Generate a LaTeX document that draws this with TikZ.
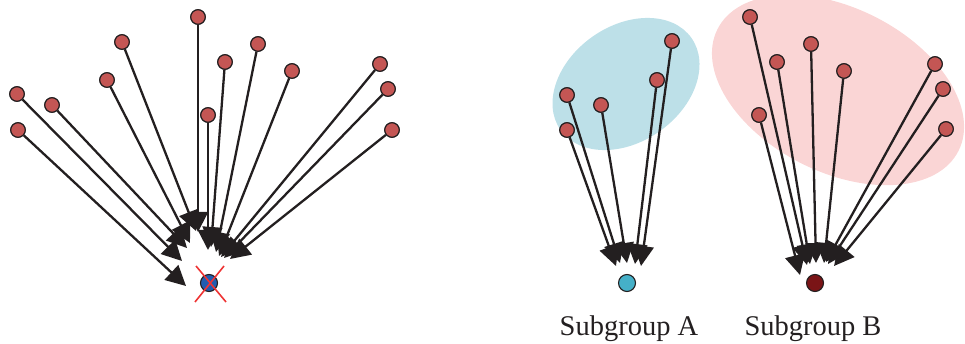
\documentclass[tikz,border=0pt]{standalone}
\usepackage{fontspec}
\setmainfont{Liberation Serif}
\usetikzlibrary{arrows.meta}

\definecolor{inkdark}{RGB}{35,31,32}
\definecolor{srcred}{RGB}{196,86,84}
\definecolor{tgtblue}{RGB}{32,92,176}
\definecolor{tgtcyan}{RGB}{69,176,200}
\definecolor{tgtdark}{RGB}{122,20,22}
\definecolor{crossred}{RGB}{238,52,52}
\definecolor{hullblue}{RGB}{189,224,232}
\definecolor{hullpink}{RGB}{250,213,213}

\tikzset{
  src/.style={circle, draw=inkdark, line width=1.1pt, fill=srcred,
    minimum size=14.5pt, inner sep=0pt},
  tgt/.style={circle, draw=inkdark, line width=1.1pt,
    minimum size=17pt, inner sep=0pt},
  arr/.style={draw=inkdark, line width=2.3pt,
    arrows={-Triangle[length=20pt 0 1, width=20pt 0 1]}},
  crossline/.style={draw=crossred, line width=1.6pt},
  lbl/.style={font=\fontsize{28.5}{34}\selectfont, anchor=base, text=inkdark}
}

\begin{document}
\begin{tikzpicture}[x=1pt,y=-1pt]
\useasboundingbox (0,0) rectangle (965,344);

% group hulls
\begin{scope}
  \clip (0,0) rectangle (965,344);
  \fill[hullblue, rotate around={35:(626,84)}] (626,84) ellipse [x radius=80, y radius=58];
  \fill[hullpink, rotate around={-26.8:(838,90)}] (838,90) ellipse [x radius=135, y radius=82];
\end{scope}

% ---------- left panel: all sources into one target ----------
\node[tgt, fill=tgtblue] (t0) at (209,283) {};

\node[src] (a1)  at (18,130)  {};
\node[src] (a2)  at (17,94)   {};
\node[src] (a3)  at (52,105)  {};
\node[src] (a4)  at (107,80)  {};
\node[src] (a5)  at (122,42)  {};
\node[src] (a6)  at (198,17)  {};
\node[src] (a7)  at (208,115) {};
\node[src] (a8)  at (225,62)  {};
\node[src] (a9)  at (258,44)  {};
\node[src] (a10) at (292,71)  {};
\node[src] (a11) at (380,64)  {};
\node[src] (a12) at (388,89)  {};
\node[src] (a13) at (392,130) {};

\coordinate (e1)  at (186,286);
\coordinate (e2)  at (182,261);
\coordinate (e3)  at (187,248);
\coordinate (e4)  at (190,243);
\coordinate (e5)  at (196,231);
\coordinate (e6)  at (198,232);
\coordinate (e7)  at (208,250);
\coordinate (e8)  at (211,247);
\coordinate (e9)  at (216,252);
\coordinate (e10) at (219,256);
\coordinate (e11) at (221,257);
\coordinate (e12) at (224,258);
\coordinate (e13) at (230,259);

\foreach \i in {1,...,13} \draw[arr] (a\i) -- (e\i);

% crossed-out target
\draw[crossline] (196,266) -- (226,302);
\draw[crossline] (224,266) -- (195,302);

% ---------- right panel: subgroup A ----------
\node[tgt, fill=tgtcyan] (tA) at (627,283) {};

\node[src] (b1) at (567,130) {};
\node[src] (b2) at (567,95)  {};
\node[src] (b3) at (601,105) {};
\node[src] (b4) at (657,80)  {};
\node[src] (b5) at (672,41)  {};

\coordinate (f1) at (616,266);
\coordinate (f2) at (620,263);
\coordinate (f3) at (627,263);
\coordinate (f4) at (635,264);
\coordinate (f5) at (641,266);

\foreach \i in {1,...,5} \draw[arr] (b\i) -- (f\i);

% ---------- right panel: subgroup B ----------
\node[tgt, fill=tgtdark] (tB) at (815,283) {};

\node[src] (c1) at (759,115) {};
\node[src] (c2) at (750,17)  {};
\node[src] (c3) at (777,62)  {};
\node[src] (c4) at (811,44)  {};
\node[src] (c5) at (844,71)  {};
\node[src] (c6) at (935,64)  {};
\node[src] (c7) at (943,89)  {};
\node[src] (c8) at (946,129) {};

\coordinate (g1) at (800,275);
\coordinate (g2) at (807,265);
\coordinate (g3) at (810,264);
\coordinate (g4) at (816,263);
\coordinate (g5) at (824,263);
\coordinate (g6) at (826,262);
\coordinate (g7) at (828,264);
\coordinate (g8) at (834,266);

\foreach \i in {1,...,8} \draw[arr] (c\i) -- (g\i);

% redraw sources above the arrow shafts
\foreach \n/\p in {a1/{18,130},a2/{17,94},a3/{52,105},a4/{107,80},a5/{122,42},
  a6/{198,17},a7/{208,115},a8/{225,62},a9/{258,44},a10/{292,71},a11/{380,64},
  a12/{388,89},a13/{392,130},b1/{567,130},b2/{567,95},b3/{601,105},b4/{657,80},
  b5/{672,41},c1/{759,115},c2/{750,17},c3/{777,62},c4/{811,44},c5/{844,71},
  c6/{935,64},c7/{943,89},c8/{946,129}}
  \node[src] at (\p) {};

% labels
\node[lbl] (labA) at (629,335) {Subgroup A};
\node[lbl] (labB) at (813,335) {Subgroup B};
\end{tikzpicture}
\end{document}
